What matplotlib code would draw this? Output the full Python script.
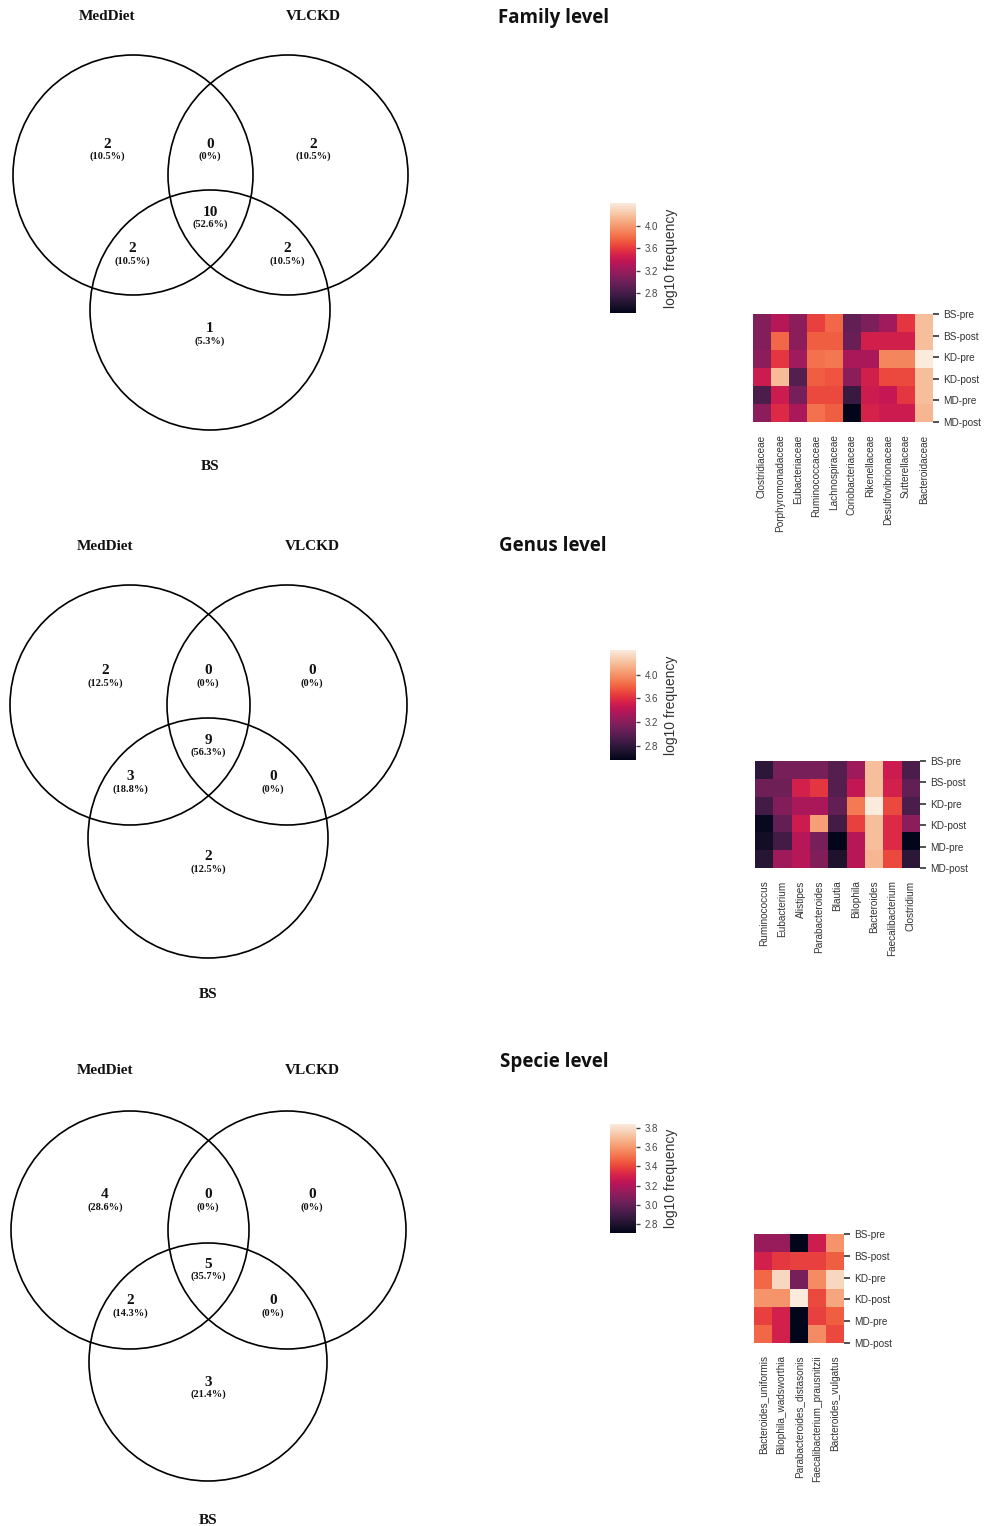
import numpy as np
import matplotlib
matplotlib.use("Agg")
import matplotlib.pyplot as plt
from matplotlib.patches import Circle
import seaborn as sns

W, H = 987, 1526

# ---------------- data ----------------
groups = ["MedDiet", "VLCKD", "BS"]
samples = ["BS-pre", "BS-post", "KD-pre", "KD-post", "MD-pre", "MD-post"]

# Venn counts: MedDiet only, MedDiet&VLCKD, VLCKD only, all three,
# MedDiet&BS, VLCKD&BS, BS only
family_venn = [2, 0, 2, 10, 2, 2, 1]
genus_venn = [2, 0, 0, 9, 3, 0, 2]
species_venn = [4, 0, 0, 5, 2, 0, 3]

family_taxa = ["Clostridiaceae", "Porphyromonadaceae", "Eubacteriaceae",
               "Ruminococcaceae", "Lachnospiraceae", "Coriobacteriaceae",
               "Rikenellaceae", "Desulfovibrionaceae", "Sutterellaceae",
               "Bacteroidaceae"]
family_log = [
    [3.09, 3.33, 3.13, 3.62, 3.78, 2.94, 3.07, 3.23, 3.58, 4.17],
    [3.09, 3.78, 3.13, 3.74, 3.74, 2.98, 3.46, 3.46, 3.46, 4.17],
    [3.13, 3.58, 3.23, 3.82, 3.85, 3.27, 3.27, 3.91, 3.91, 4.40],
    [3.43, 4.15, 2.88, 3.74, 3.70, 3.13, 3.46, 3.66, 3.66, 4.17],
    [2.84, 3.43, 3.04, 3.66, 3.66, 2.74, 3.43, 3.39, 3.58, 4.17],
    [3.13, 3.52, 3.27, 3.82, 3.74, 2.45, 3.48, 3.43, 3.43, 4.13],
]

genus_taxa = ["Ruminococcus", "Eubacterium", "Alistipes", "Parabacteroides",
              "Blautia", "Bilophila", "Bacteroides", "Faecalibacterium",
              "Clostridium"]
genus_log = [
    [2.78, 3.12, 3.12, 3.12, 2.97, 3.30, 4.20, 3.49, 2.93],
    [3.08, 3.08, 3.53, 3.64, 2.97, 3.45, 4.20, 3.53, 3.03],
    [2.89, 3.17, 3.34, 3.34, 3.03, 3.90, 4.42, 3.71, 2.93],
    [2.60, 3.03, 3.49, 4.05, 2.89, 3.68, 4.20, 3.58, 3.21],
    [2.65, 2.89, 3.40, 3.12, 2.56, 3.40, 4.20, 3.58, 2.56],
    [2.75, 3.30, 3.40, 3.17, 2.71, 3.40, 4.16, 3.71, 2.78],
]

species_taxa = ["Bacteroides_uniformis", "Bilophila_wadsworthia",
                "Parabacteroides_distasonis", "Faecalibacterium_prausnitzii",
                "Bacteroides_vulgatus"]
species_log = [
    [3.14, 3.14, 2.71, 3.28, 3.59],
    [3.30, 3.37, 3.39, 3.39, 3.46],
    [3.48, 3.78, 3.05, 3.57, 3.78],
    [3.59, 3.59, 3.84, 3.41, 3.64],
    [3.39, 3.30, 2.71, 3.39, 3.46],
    [3.48, 3.30, 2.71, 3.57, 3.41],
]

titles = ["Family level", "Genus level", "Specie level"]
cbar_ticks = [[2.8, 3.2, 3.6, 4.0], [2.8, 3.2, 3.6, 4.0],
              [2.8, 3.0, 3.2, 3.4, 3.6, 3.8]]

# ---------------- layout (pixels) ----------------
panels = [
    dict(venn=family_venn, taxa=family_taxa, vals=family_log,
         circ=[(133, 175), (288, 175), (210, 310)], r=120,
         lab=[(107, 17), (313, 17), (210, 467)],
         reg=[(107, 150), (210, 150), (313, 150), (210, 218),
              (132, 255), (287, 255), (210, 335)],
         title=(498, 18),
         cbar=(610, 203, 636, 313),
         heat=(753, 314, 933, 422)),
    dict(venn=genus_venn, taxa=genus_taxa, vals=genus_log,
         circ=[(130, 705), (287, 705), (208, 838)], r=120,
         lab=[(105, 546), (312, 546), (208, 995)],
         reg=[(105, 677), (208, 677), (312, 677), (208, 746),
              (130, 783), (273, 783), (208, 863)],
         title=(499, 546),
         cbar=(610, 650, 636, 760),
         heat=(755, 761, 920, 868)),
    dict(venn=species_venn, taxa=species_taxa, vals=species_log,
         circ=[(130, 1230), (287, 1230), (208, 1362)], r=119,
         lab=[(105, 1070), (312, 1070), (208, 1520)],
         reg=[(105, 1201), (208, 1201), (312, 1201), (208, 1270),
              (130, 1307), (273, 1307), (208, 1388)],
         title=(500, 1062),
         cbar=(610, 1124, 636, 1233),
         heat=(754, 1234, 844, 1343)),
]

fig = plt.figure(figsize=(W / 100, H / 100), dpi=100)
fig.patch.set_facecolor("white")

bg = fig.add_axes([0, 0, 1, 1])
bg.set_xlim(0, W)
bg.set_ylim(H, 0)
bg.axis("off")

serif = ["Liberation Serif", "DejaVu Serif"]
sans = ["Liberation Sans", "DejaVu Sans"]


def px_axes(x0, y0, x1, y1):
    return fig.add_axes([x0 / W, 1 - y1 / H, (x1 - x0) / W, (y1 - y0) / H])


def pct_text(n, total):
    if n == 0:
        return "(0%)"
    # round half up to one decimal
    v = np.floor(1000.0 * n / total + 0.5) / 10.0
    return "({:.1f}%)".format(v)


for k, p in enumerate(panels):
    # Venn diagram
    for (cx, cy) in p["circ"]:
        bg.add_patch(Circle((cx, cy), p["r"], fill=False, lw=1.2,
                            ec="black"))
    for name, (lx, ly) in zip(groups, p["lab"]):
        bg.text(lx, ly, name, ha="center", va="center", fontsize=11,
                fontweight="bold", family=serif, color="#111111")
    total = sum(p["venn"])
    for n, (rx, ry) in zip(p["venn"], p["reg"]):
        bg.text(rx, ry - 6, str(n), ha="center", va="center", fontsize=11,
                fontweight="bold", family=serif, color="#111111")
        bg.text(rx, ry + 6.5, pct_text(n, total), ha="center", va="center",
                fontsize=7.5, fontweight="bold", family=serif,
                color="#111111")

    # title
    tx, ty = p["title"]
    bg.text(tx, ty, titles[k], ha="left", va="center", fontsize=13.5,
            fontweight="bold", family=["Open Sans", "DejaVu Sans"],
            color="#111111")

    # heatmap with colorbar
    cax = px_axes(*p["cbar"])
    hax = px_axes(*p["heat"])
    data = np.array(p["vals"])
    sns.heatmap(data, ax=hax, cmap="rocket", cbar_ax=cax,
                cbar_kws={"label": "log10 frequency",
                          "ticks": cbar_ticks[k]})
    nrow, ncol = data.shape
    hax.yaxis.tick_right()
    hax.set_yticks(np.linspace(0, nrow, nrow))
    hax.set_yticklabels(samples, rotation=0, fontsize=7.2, family=sans,
                        color="#333333")
    hax.set_xticks(np.arange(ncol) + 0.5)
    hax.set_xticklabels(p["taxa"], rotation=90, fontsize=7.2, family=sans,
                        color="#333333")
    hax.tick_params(axis="y", length=4, width=1.2, pad=3, colors="#333333")
    hax.tick_params(axis="x", length=0, pad=9)
    cax.tick_params(labelsize=7, length=3, width=1, colors="#444444")
    for lbl in cax.get_yticklabels():
        lbl.set_family(sans)
    cax.yaxis.label.set_size(10)
    cax.yaxis.label.set_family(sans)
    cax.yaxis.label.set_color("#333333")

fig.savefig("out.png", dpi=100, facecolor="white")
